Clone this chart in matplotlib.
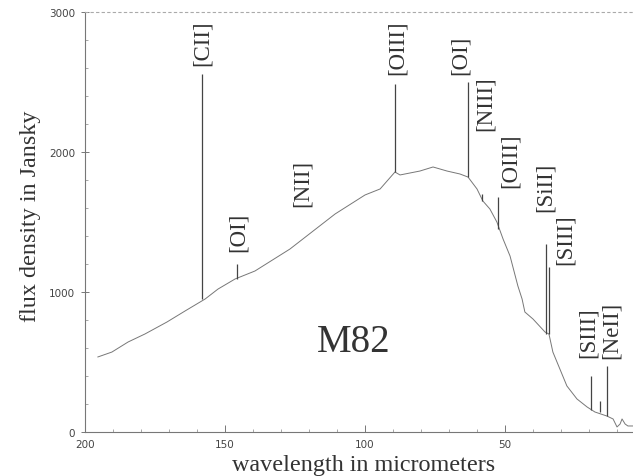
import matplotlib
matplotlib.use("Agg")
import matplotlib.pyplot as plt
from matplotlib.ticker import MultipleLocator

# continuum of the spectrum (wavelength in micrometers, flux in Jy)
wavelength = [195.4, 190.4, 184.6, 178.6, 170.7, 164.3, 157.1, 152.5, 146.4,
              139.3, 126.8, 110.7, 100.0, 94.6, 89.3, 87.5, 80.4, 75.7, 70.7,
              66.1, 63.2, 60.0, 57.9, 55.4, 52.9, 50.7, 48.2, 45.4, 43.9,
              42.9, 40.0, 35.7, 34.3, 32.9, 30.4, 27.9, 24.3, 20.7, 17.9,
              13.6, 11.4, 10.0, 8.9, 8.2, 7.1, 6.1, 4.3]
flux = [536, 571, 643, 700, 786, 864, 950, 1021, 1093,
        1150, 1307, 1557, 1693, 1736, 1857, 1836, 1864, 1893, 1864,
        1843, 1821, 1736, 1650, 1593, 1500, 1379, 1257, 1043, 950,
        857, 807, 714, 700, 571, 450, 329, 236, 179, 143,
        114, 93, 36, 57, 93, 57, 43, 43]

# emission lines
line_wl = [158.2, 145.7, 89.3, 63.2, 58.2, 52.5, 35.4, 34.3, 19.3, 16.1, 13.6]
line_base = [950, 1093, 1857, 1821, 1650, 1450, 700, 700, 160, 140, 114]
line_peak = [2557, 1200, 2486, 2500, 1700, 1679, 1343, 1179, 400, 221, 471]

# line labels
label_text = ['[CII]', '[OI]', '[NII]', '[OIII]', '[OI]', '[NIII]', '[OIII]',
              '[SiII]', '[SIII]', '[SIII]', '[NeII]']
label_x = [158.2, 145.4, 122.5, 88.6, 66.0, 57.1, 48.0, 35.7, 28.6, 20.4, 12.1]
label_y = [2786, 1436, 1786, 2750, 2700, 2350, 1943, 1757, 1379, 714, 736]

serif = 'Liberation Serif'

fig = plt.figure(figsize=(6.33, 4.77), dpi=100)
ax = fig.add_axes([85/633, 44/477, 548/633, 420/477])

ax.plot(wavelength, flux, color='#777777', lw=0.7)
ax.vlines(line_wl, line_base, line_peak, color='#444444', lw=0.9)

for t, x, y in zip(label_text, label_x, label_y):
    ax.text(x, y, t, rotation=90, ha='center', va='center',
            fontsize=16.5, family=serif, color='#333333')

ax.text(104, 643, 'M82', ha='center', va='center', fontsize=28,
        family=serif, color='#333333')

ax.set_xlim(200, 200 - 548/2.8)
ax.set_ylim(0, 3000)
ax.set_xticks([200, 150, 100, 50])
ax.set_yticks([0, 1000, 2000, 3000])
ax.xaxis.set_minor_locator(MultipleLocator(10))
ax.yaxis.set_minor_locator(MultipleLocator(200))
ax.tick_params(axis='both', which='major', labelsize=7.5, labelcolor='#444444',
               color='#777777', width=0.7)
ax.tick_params(axis='y', which='major', direction='inout', length=6, pad=4)
ax.tick_params(axis='x', which='major', direction='in', length=5, pad=5)
ax.tick_params(axis='both', which='minor', direction='in', length=2,
               color='#999999', width=0.6)

for side in ['left', 'bottom']:
    ax.spines[side].set_color('#777777')
    ax.spines[side].set_linewidth(0.8)
ax.spines['top'].set_color('#aaaaaa')
ax.spines['top'].set_linestyle((0, (2, 3)))
ax.spines['top'].set_linewidth(0.8)
ax.spines['right'].set_visible(False)

fig.text(31/633, 1 - 216/477, 'flux density in Jansky', rotation=90,
         ha='center', va='center', fontsize=17.4, family=serif, color='#333333')
fig.text(364/633, 1 - 466/477, 'wavelength in micrometers',
         ha='center', va='center', fontsize=17.4, family=serif, color='#333333')

fig.savefig('out.png', dpi=100)
